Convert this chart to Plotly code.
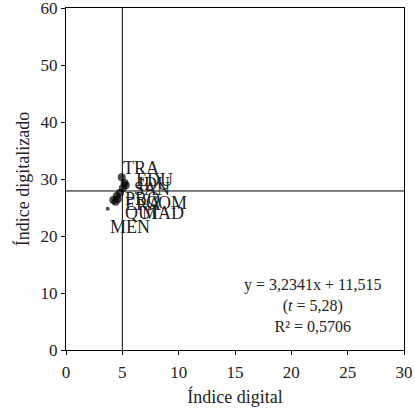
import plotly.graph_objects as go

labels = ["TRA", "EDU", "IDU", "SAN", "PRO", "ERA", "COM", "QUI", "MAD", "MEN"]
x_vals = [4.95, 5.2, 5.3, 5.05, 4.8, 4.5, 4.6, 4.2, 4.4, 3.7]
y_vals = [30.3, 29.3, 28.9, 28.4, 27.6, 27.0, 26.5, 26.3, 26.0, 24.8]
# label anchor (left edge) in data units
label_x = [4.9, 6.0, 6.25, 5.9, 5.1, 5.1, 6.9, 5.1, 6.6, 3.75]
label_y = [32.0, 29.8, 29.2, 28.2, 26.5, 25.7, 25.8, 24.0, 24.0, 21.6]
marker_sizes = [8, 8, 8, 8, 8, 8, 8, 8, 8, 4]

x_ref = 5.0
y_ref = 27.9
x_ticks = [0, 5, 10, 15, 20, 25, 30]
y_ticks = [0, 10, 20, 30, 40, 50, 60]

FONT = "Liberation Serif"
TXT = "#222"

fig = go.Figure()
fig.add_trace(go.Scatter(x=x_vals, y=y_vals, mode="markers",
                         marker=dict(color="black", size=marker_sizes, line=dict(width=0)),
                         showlegend=False, hoverinfo="skip"))

for lab, lx, ly in zip(labels, label_x, label_y):
    fig.add_annotation(x=lx, y=ly, text=lab, showarrow=False, xanchor="left",
                       yanchor="middle", font=dict(family=FONT, size=18, color=TXT))

fig.add_shape(type="line", x0=x_ref, x1=x_ref, y0=0, y1=60, xref="x", yref="y",
              line=dict(color="black", width=1))
fig.add_shape(type="line", x0=0, x1=30, y0=y_ref, y1=y_ref, xref="x", yref="y",
              line=dict(color="black", width=1))

eq_lines = ["y = 3,2341x + 11,515", "(<i>t</i> = 5,28)", "R² = 0,5706"]
fig.add_annotation(x=0.73, y=0.13, xref="paper", yref="paper", showarrow=False,
                   text="<br>".join(eq_lines), align="center", xanchor="center",
                   yanchor="middle", font=dict(family=FONT, size=16, color=TXT))

axis_common = dict(showline=True, linecolor="black", linewidth=1, mirror=True,
                   ticks="outside", ticklen=4, tickcolor="black", showgrid=False,
                   zeroline=False, automargin=False, ticklabeloverflow="allow",
                   tickfont=dict(family=FONT, size=17, color=TXT))
fig.update_xaxes(range=[0, 30], tickvals=x_ticks, ticklabelstandoff=3,
                 title=dict(text="Índice digital",
                 font=dict(family=FONT, size=18, color=TXT), standoff=8), **axis_common)
fig.update_yaxes(range=[0, 60], tickvals=y_ticks, title=dict(text="Índice digitalizado",
                 font=dict(family=FONT, size=18, color=TXT), standoff=6), **axis_common)

fig.update_layout(width=415, height=415, margin=dict(l=66, r=11, t=8, b=65),
                  plot_bgcolor="white", paper_bgcolor="white")
fig.write_html("out.html")
